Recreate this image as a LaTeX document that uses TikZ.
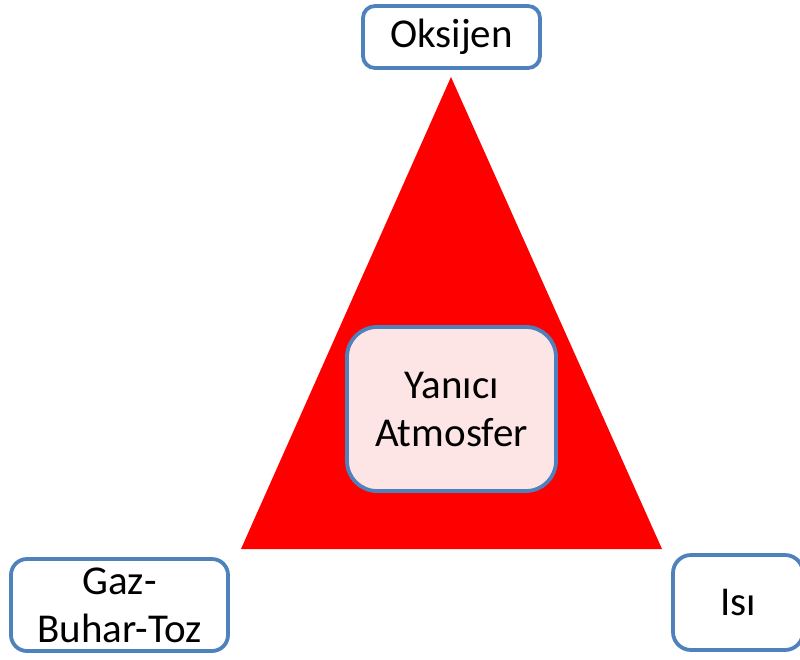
\documentclass[tikz,border=0pt]{standalone}
\usepackage{fontspec}
\setmainfont{Carlito}
\definecolor{boxblue}{RGB}{79,129,189}
\definecolor{pinkfill}{RGB}{253,228,229}
\definecolor{trired}{RGB}{255,0,0}
\begin{document}
\begin{tikzpicture}[x=1pt,y=-1pt,
  lbl/.style={draw=boxblue, line width=3.8pt, fill=white, align=center, inner sep=0pt,
    font=\fontsize{41}{48}\selectfont, text=black}]
\useasboundingbox (0,0) rectangle (800,659);
\clip (0,0) rectangle (800,659);
\coordinate (top) at (451,77);
\coordinate (bl) at (241,549);
\coordinate (br) at (662,549);
\fill[trired] (top) -- (br) -- (bl) -- cycle;
\node[lbl, rounded corners=12pt, minimum width=177pt, minimum height=62pt] (oks) at (451.5,37) {Oksijen};
\node[lbl, fill=pinkfill, rounded corners=30pt, minimum width=209pt, minimum height=164pt] (mid) at (451.5,409) {Yanıcı\\Atmosfer};
\node[lbl, rounded corners=16pt, minimum width=217pt, minimum height=92pt] (gaz) at (119.5,605) {Gaz-\\Buhar-Toz};
\node[lbl, rounded corners=18pt, minimum width=130pt, minimum height=95pt] (isi) at (738,602.5) {Isı};
\end{tikzpicture}
\end{document}
